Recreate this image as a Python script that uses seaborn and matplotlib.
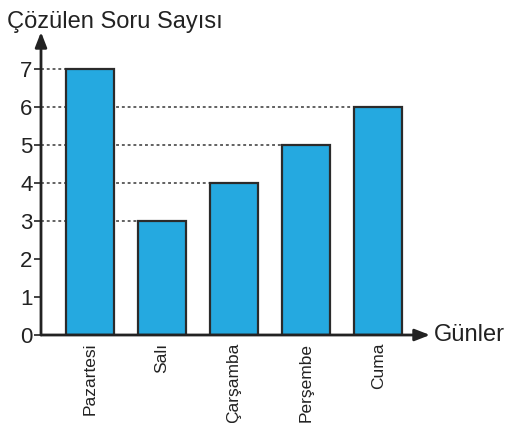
import matplotlib
matplotlib.use("Agg")
import matplotlib.pyplot as plt
import seaborn as sns
import pandas as pd

days = ["Pazartesi", "Salı", "Çarşamba", "Perşembe", "Cuma"]
solved = [7, 3, 4, 5, 6]
y_ticks = [0, 1, 2, 3, 4, 5, 6, 7]
title_text = "Çözülen Soru Sayısı"
x_axis_text = "Günler"

sns.set_style("white")
plt.rcParams["font.family"] = ["Liberation Sans", "DejaVu Sans"]

df = pd.DataFrame({"day": days, "solved": solved})

W, H = 509, 423
fig = plt.figure(figsize=(W / 100, H / 100), dpi=100)
left_px, right_px, top_px, bottom_px = 41, 430, 32, 335
ax = fig.add_axes([left_px / W, 1 - bottom_px / H, (right_px - left_px) / W, (bottom_px - top_px) / H])

bar_color = "#25A9E0"
sns.barplot(data=df, x="day", y="solved", color=bar_color, width=0.667,
            edgecolor="#2b2b2b", linewidth=1.6, saturation=1, ax=ax, zorder=3)

ax.set_xlim(-0.68, 4.72)
ax.set_ylim(0, 7.97)

for s in ax.spines.values():
    s.set_visible(False)

# dotted guides from y axis to left edge of bars
for i, v in enumerate(solved):
    ax.plot([-0.68, i - 0.3335], [v, v], linestyle=(0, (1.6, 1.6)), color="#555555",
            linewidth=1.3, zorder=2, clip_on=False)

# axis arrows
ax.annotate("", xy=(1.0, 0), xytext=(0, 0), xycoords="axes fraction",
            arrowprops=dict(arrowstyle="-|>,head_length=0.9,head_width=0.35",
                            color="#222222", lw=2, shrinkA=0, shrinkB=0), zorder=5)
ax.annotate("", xy=(0, 1.0), xytext=(0, 0), xycoords="axes fraction",
            arrowprops=dict(arrowstyle="-|>,head_length=0.9,head_width=0.35",
                            color="#222222", lw=2, shrinkA=0, shrinkB=0), zorder=5)

ax.set_yticks(y_ticks)
ax.set_yticklabels([str(t) for t in y_ticks], fontsize=16, color="#222222")
ax.tick_params(axis="y", left=True, length=5, width=1.2, color="#222222", pad=1)
ax.set_xticks(range(len(days)))
ax.set_xticklabels(days, rotation=90, fontsize=12.5, color="#222222", va="top")
ax.tick_params(axis="x", bottom=False, pad=2)
ax.set_xlabel("")
ax.set_ylabel("")

fig.text(7 / W, 1 - 28 / H, title_text, fontsize=17, color="#222222", ha="left", va="baseline")
fig.text(434 / W, 1 - bottom_px / H, x_axis_text, fontsize=17, color="#222222", ha="left", va="center")

fig.savefig("out.png", dpi=100)
